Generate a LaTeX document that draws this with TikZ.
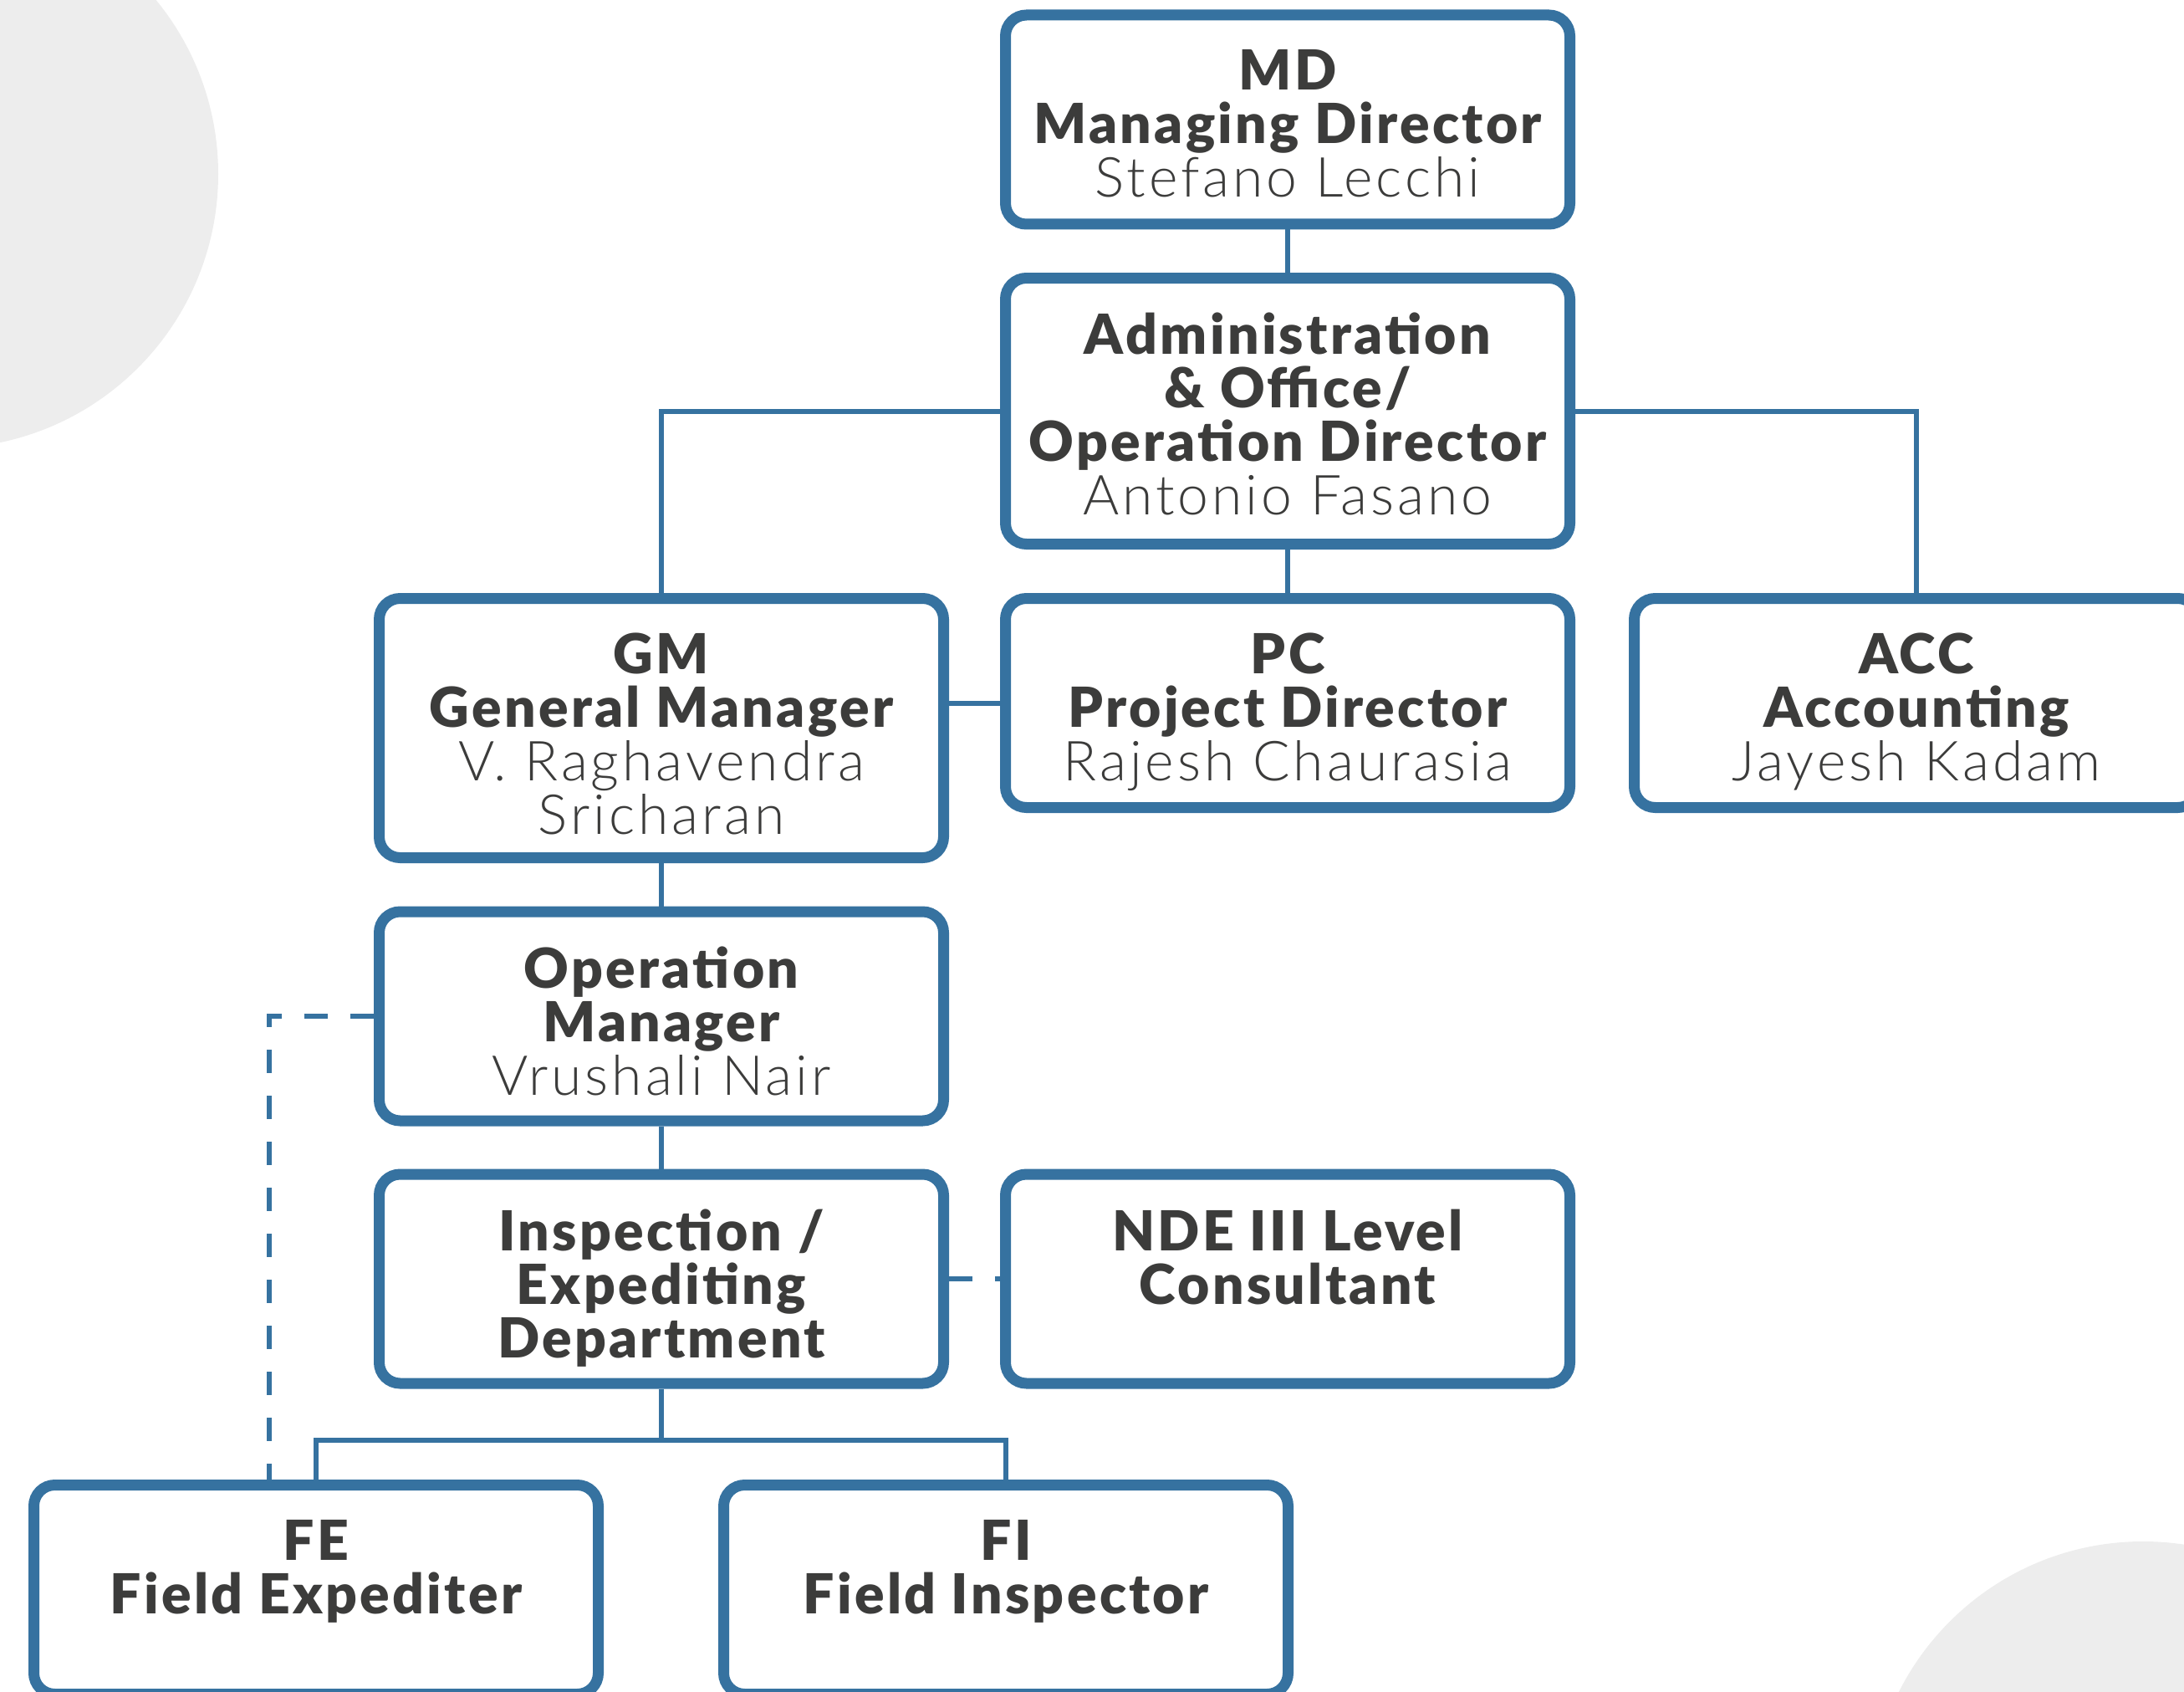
\documentclass[tikz,border=0pt]{standalone}
\usepackage{fontspec}
\usetikzlibrary{calc}
\setmainfont{Lato}[BoldFont={Lato Black}, BoldFeatures={LetterSpace=5}]
\newfontfamily\lightfont{Lato Light}[LetterSpace=6]
\newlength{\du}
\setlength{\du}{0.25pt}
\definecolor{boxblue}{rgb}{0.212, 0.447, 0.627}
\definecolor{txtgray}{rgb}{0.235, 0.235, 0.231}
\definecolor{blobgray}{rgb}{0.929, 0.929, 0.929}
\newcommand{\who}[1]{{\lightfont\mdseries #1}}
\tikzset{
  orgbox/.style={draw=boxblue, line width=13\du, rounded corners=25\du, fill=white,
    minimum width=675\du, minimum height=250\du, inner sep=0pt},
  orgtext/.style={anchor=north, inner sep=0pt, align=center, text=txtgray,
    font=\bfseries\fontsize{16.5}{16}\selectfont},
  orgline/.style={draw=boxblue, line width=6\du},
  orgdash/.style={orgline, dash pattern=on 28\du off 27\du},
}
\newcommand{\textdrop}{47.5\du}

\begin{document}
\begin{tikzpicture}
\pgftransformxscale{1.000000}
\pgftransformyscale{-1.000000}
\useasboundingbox (0\du,0\du) rectangle (2612\du,2023\du);
\begin{scope}
\clip (0\du,0\du) rectangle (2612\du,2023\du);
\fill[blobgray] (-67\du,208\du) circle (328\du);
\fill[blobgray] (2563\du,2170\du) circle (327\du);
\end{scope}

\node[orgbox] (MD) at (1540\du,143\du) {};
\node[orgbox, minimum height=318\du] (Admin) at (1540\du,491.5\du) {};
\node[orgbox, minimum height=310\du] (GM) at (791\du,870.5\du) {};
\node[orgbox] (PC) at (1540\du,840.5\du) {};
\node[orgbox] (ACC) at (2292\du,840.5\du) {};
\node[orgbox] (OpM) at (791\du,1215\du) {};
\node[orgbox] (Insp) at (791\du,1529\du) {};
\node[orgbox] (NDE) at (1540\du,1529\du) {};
\node[orgbox] (FE) at (378\du,1900.5\du) {};
\node[orgbox] (FI) at (1203\du,1900.5\du) {};

\node[orgtext] (MDtext) at ($(MD.north)+(0,\textdrop)$) {MD\\Managing Director\\\who{Stefano Lecchi}};
\node[orgtext] (Admintext) at ($(Admin.north)+(0,\textdrop)$) {Administration\\\& Office/\\Operation Director\\\who{Antonio Fasano}};
\node[orgtext] (GMtext) at ($(GM.north)+(0,\textdrop)$) {GM\\General Manager\\\who{V. Raghavendra}\\\who{Sricharan}};
\node[orgtext] (PCtext) at ($(PC.north)+(0,\textdrop)$) {PC\\Project Director\\\who{Rajesh Chaurasia}};
\node[orgtext] (ACCtext) at ($(ACC.north)+(0,\textdrop)$) {ACC\\Accounting\\\who{Jayesh Kadam}};
\node[orgtext] (OpMtext) at ($(OpM.north)+(0,\textdrop)$) {Operation\\Manager\\\who{Vrushali Nair}};
\node[orgtext] (Insptext) at ($(Insp.north)+(0,\textdrop)$) {Inspection /\\Expediting\\Department};
\node[orgtext] (NDEtext) at ($(NDE.north)+(0,\textdrop)$) {NDE III Level\\Consultant};
\node[orgtext] (FEtext) at ($(FE.north)+(0,\textdrop)$) {FE\\Field Expediter};
\node[orgtext] (FItext) at ($(FI.north)+(0,\textdrop)$) {FI\\Field Inspector};

\draw[orgline] (MD) -- (Admin);
\draw[orgline] (Admin.west) -| (GM.north);
\draw[orgline] (Admin.east) -| (ACC.north);
\draw[orgline] (Admin) -- (PC);
\draw[orgline] (PC.west) -- (PC.west -| GM.east);
\draw[orgline] (GM) -- (OpM);
\draw[orgline] (OpM) -- (Insp);
\draw[orgdash] (Insp) -- (NDE);
\draw[orgline] (Insp.south) -- ++(0,61\du) coordinate (bus) -| (FE.north);
\draw[orgline] (bus) -| (FI.north);
\coordinate (dashturn) at (322\du,1215\du);
\draw[orgdash] (OpM.west) -- (dashturn) -- (dashturn |- FE.north);
\end{tikzpicture}
\end{document}
